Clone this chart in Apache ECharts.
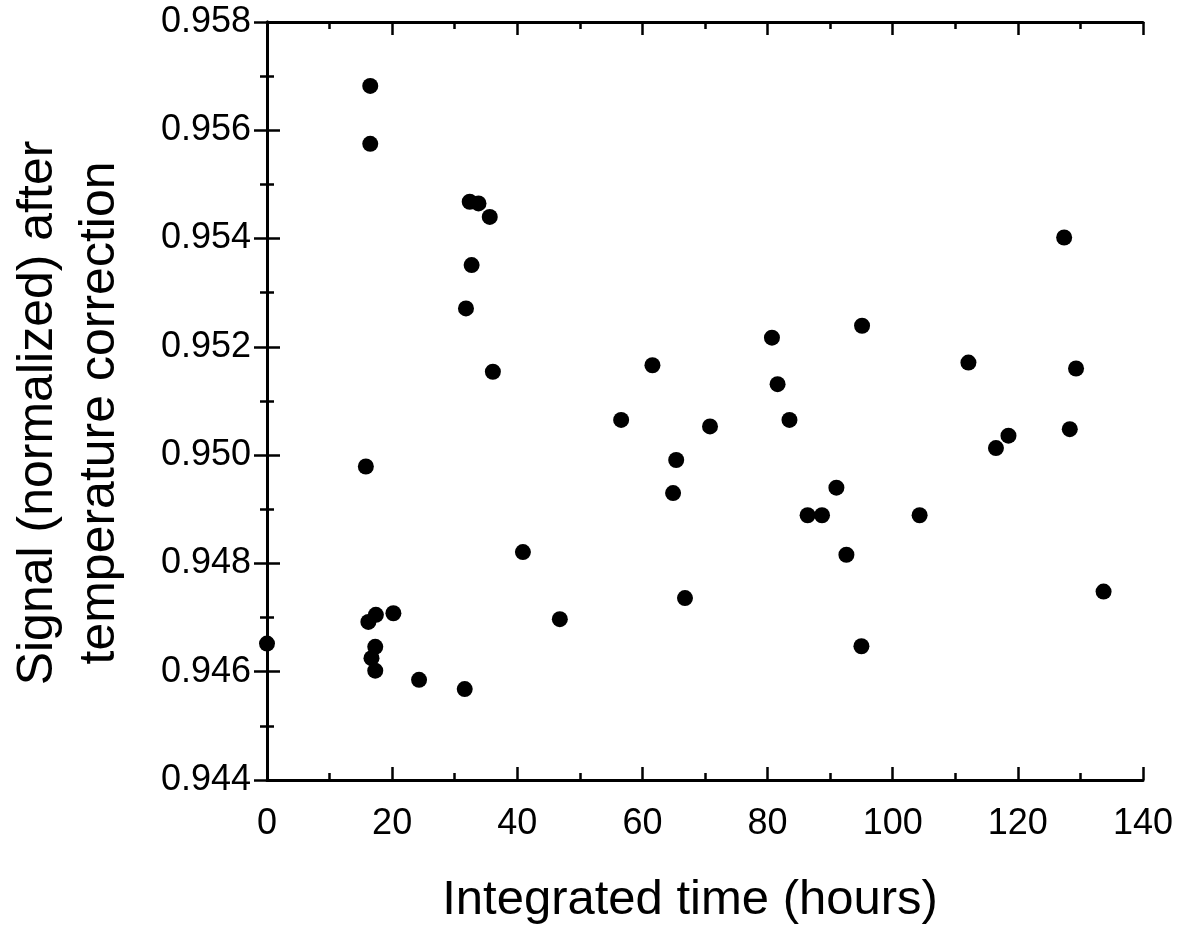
<!DOCTYPE html>
<html>
<head>
<meta charset="utf-8">
<script src="https://cdn.jsdelivr.net/npm/echarts@6/dist/echarts.min.js"></script>
<style>
html,body{margin:0;padding:0;background:#fff;}
#chart{width:1186px;height:933px;}
</style>
</head>
<body>
<div id="chart"></div>
<script>
// Integrated time (hours)
var hours = [0, 16.5, 16.5, 15.8, 16.2, 17.4, 20.2, 17.3, 16.7, 17.3, 24.3, 31.6,
  32.4, 33.8, 35.6, 32.7, 31.8, 36.1, 40.9, 46.8, 56.6, 61.6, 65.4, 64.9, 66.8, 70.8,
  80.7, 81.6, 83.5, 86.4, 88.7, 91.0, 92.6, 95.1, 95.0, 104.3, 116.5, 118.5, 112.1,
  127.4, 128.3, 129.3, 133.7];
// Signal (normalized) after temperature correction
var signal = [0.94652, 0.95682, 0.95575, 0.94979, 0.94692, 0.94705, 0.94708, 0.94646, 0.94625, 0.94602, 0.94585, 0.94568,
  0.95468, 0.95465, 0.95440, 0.95351, 0.95271, 0.95154, 0.94821, 0.94697, 0.95065, 0.95166, 0.94991, 0.94930, 0.94736, 0.95053,
  0.95217, 0.95131, 0.95065, 0.94889, 0.94889, 0.94940, 0.94816, 0.95239, 0.94647, 0.94889, 0.95013, 0.95036, 0.95171,
  0.95402, 0.95048, 0.95160, 0.94748];

var xTitle = 'Integrated time (hours)';
var yTitle = 'Signal (normalized) after\ntemperature correction';

var points = hours.map(function (h, i) { return [h, signal[i]]; });

var font = 'Liberation Sans, Arial, Helvetica, sans-serif';
var axisLine = { show: true, lineStyle: { color: '#000', width: 3 } };
var axisTick = { show: true, inside: true, length: 13, lineStyle: { color: '#000', width: 2.5 } };
var minorTick = { show: true, splitNumber: 2, length: 7, lineStyle: { color: '#000', width: 2.5 } };

var chart = echarts.init(document.getElementById('chart'), null, { renderer: 'canvas' });
chart.setOption({
  backgroundColor: '#fff',
  animation: false,
  grid: { left: 267, right: 43, top: 22, bottom: 153, containLabel: false, outerBoundsMode: 'none' },
  xAxis: [{
    type: 'value', min: 0, max: 140, interval: 20, position: 'bottom',
    axisLine: axisLine, axisTick: axisTick, minorTick: minorTick,
    splitLine: { show: false },
    axisLabel: { color: '#000', fontSize: 36, fontFamily: font, margin: 26 },
    name: xTitle, nameLocation: 'middle', nameGap: 96,
    nameTextStyle: { color: '#000', fontSize: 49, fontFamily: font, padding: [0, 30, 0, 0] }
  }, {
    type: 'value', min: 0, max: 140, interval: 20, position: 'top',
    axisLine: axisLine, axisTick: axisTick, minorTick: minorTick,
    splitLine: { show: false }, axisLabel: { show: false }
  }],
  yAxis: [{
    type: 'value', min: 0.944, max: 0.958, interval: 0.002, position: 'left',
    axisLine: axisLine, axisTick: axisTick, minorTick: minorTick,
    splitLine: { show: false },
    axisLabel: { color: '#000', fontSize: 36, fontFamily: font, margin: 16,
      formatter: function (v) { return v.toFixed(3); } },
    name: yTitle, nameLocation: 'middle', nameGap: 136,
    nameTextStyle: { color: '#000', fontSize: 50, fontFamily: font, lineHeight: 62, align: 'center', padding: [0, 24, 0, 0] }
  }, {
    type: 'value', min: 0.944, max: 0.958, interval: 0.002, position: 'right',
    axisLine: axisLine, axisTick: axisTick, minorTick: minorTick,
    splitLine: { show: false }, axisLabel: { show: false }
  }],
  series: [{
    type: 'scatter',
    xAxisIndex: 0, yAxisIndex: 0,
    data: points,
    symbol: 'circle', symbolSize: 16,
    itemStyle: { color: '#000', opacity: 1 }
  }]
});
</script>
</body>
</html>
